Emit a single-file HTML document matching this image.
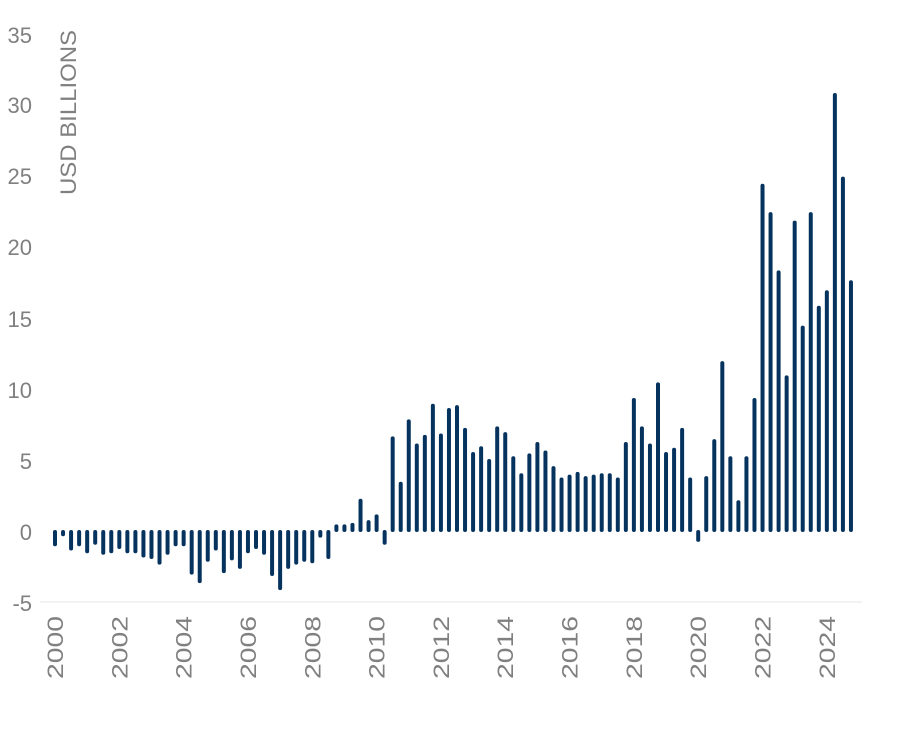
<!DOCTYPE html><html><head><style>body{margin:0;background:#fff}</style></head><body>
<svg width="905" height="731" xmlns="http://www.w3.org/2000/svg" font-family="Liberation Sans, sans-serif">
<g fill="#808080" font-size="22" text-anchor="end">
<text x="32" y="43">35</text><text x="32" y="113">30</text><text x="32" y="184">25</text><text x="32" y="255">20</text><text x="32" y="327">15</text><text x="32" y="398">10</text><text x="32" y="469">5</text><text x="32" y="540">0</text><text x="32" y="611">-5</text>
</g>
<text transform="translate(76,195) rotate(-90)" fill="#808080" font-size="22" textLength="165" lengthAdjust="spacingAndGlyphs">USD BILLIONS</text>
<line x1="40" y1="602" x2="862" y2="602" stroke="#e6e6e6" stroke-width="1"/>
<g id="bars" stroke="#05335e" stroke-width="4" stroke-linecap="round"></g>
<g id="xl" fill="#808080" font-size="22"></g>
</svg>
<script>
var v=[-1,-0.3,-1.3,-1,-1.5,-0.9,-1.6,-1.5,-1.2,-1.5,-1.5,-1.8,-1.9,-2.3,-1.6,-1,-1,-3,-3.6,-2.1,-1.3,-2.9,-2,-2.6,-1.5,-1.2,-1.6,-3.1,-4.1,-2.6,-2.3,-2.1,-2.2,-0.4,-1.9,0.4,0.4,0.5,2.2,0.7,1.1,-0.9,6.6,3.4,7.8,6.1,6.7,8.9,6.8,8.6,8.8,7.2,5.5,5.9,5,7.3,6.9,5.2,4,5.4,6.2,5.6,4.5,3.7,3.9,4.1,3.8,3.9,4,4,3.7,6.2,9.3,7.3,6.1,10.4,5.5,5.8,7.2,3.7,-0.7,3.8,6.4,11.9,5.2,2.1,5.2,9.3,24.4,22.4,18.3,10.9,21.8,14.4,22.4,15.8,16.9,30.8,24.9,17.6];
var g=document.getElementById('bars'),s='';
v.forEach(function(d,i){var x=55+i*8.04,y0=531,y1=531-d*14.19;var a=Math.min(y0,y1)+1,b=Math.max(y0,y1)-1;if(b<a)b=a;s+='<line x1="'+x+'" x2="'+x+'" y1="'+a+'" y2="'+b+'"/>';});
g.innerHTML=s;
var t='';for(var k=0;k<13;k++){var x=55+k*8*8.04+8;var yr=2000+2*k;t+='<text transform="translate('+x+',679) rotate(-90)" textLength="63" lengthAdjust="spacingAndGlyphs">'+yr+'</text>';}
document.getElementById('xl').innerHTML=t;
</script>
</body></html>
